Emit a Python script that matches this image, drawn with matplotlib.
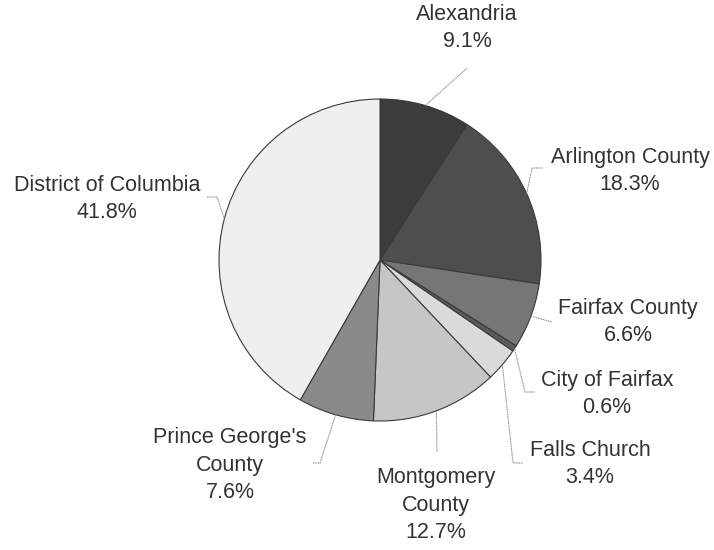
import numpy as np
import matplotlib.pyplot as plt

plt.rcParams["font.family"] = ["Liberation Sans", "DejaVu Sans"]

names = ["Alexandria", "Arlington County", "Fairfax County", "City of Fairfax",
         "Falls Church", "Montgomery\nCounty", "Prince George's\nCounty",
         "District of Columbia"]
shares = [9.1, 18.3, 6.6, 0.6, 3.4, 12.7, 7.6, 41.8]
greys = ["#3c3c3c", "#4e4e4e", "#767676", "#5a5a5a",
         "#dadada", "#c6c6c6", "#8a8a8a", "#efefef"]

# layout in pixel coordinates (y measured from top)
W, H = 714, 550
CX, CY, R = 380, 260, 161

# label block centres and leader bend points
label_pos = [(467, 28), (630, 171), (628, 322), (607, 394),
             (590, 464), (436, 505), (230, 465), (107, 199)]
leader_pts = [
    [(467, 68)],
    [(532, 168), (543, 168)],
    [(552, 322)],
    [(525, 392), (535, 392)],
    [(513, 463), (523, 463)],
    [(437, 452)],
    [(320, 463), (313, 463)],
    [(217, 197), (207, 197)],
]


def fy(y):
    """Convert a top-based pixel y to axes data y."""
    return H - y


def main() -> None:
    fig = plt.figure(figsize=(W / 100, H / 100), dpi=100)
    ax = fig.add_axes([0, 0, 1, 1])

    ax.pie(shares, colors=greys, startangle=90, counterclock=False,
           center=(CX, fy(CY)), radius=R,
           wedgeprops=dict(edgecolor="#3a3a3a", linewidth=0.8))
    ax.set_xlim(0, W)
    ax.set_ylim(0, H)
    ax.set_aspect("equal")
    ax.axis("off")

    total = sum(shares)
    cum = np.cumsum([0] + shares[:-1])
    for i, name in enumerate(names):
        theta = np.deg2rad(90 - 360 * (cum[i] + shares[i] / 2) / total)
        sx = CX + R * np.cos(theta)
        sy = fy(CY) + R * np.sin(theta)
        xs = [sx] + [p[0] for p in leader_pts[i]]
        ys = [sy] + [fy(p[1]) for p in leader_pts[i]]
        ax.plot(xs, ys, color="#8a8a8a", lw=0.8, ls=(0, (1, 0.6)))

        lx, ly = label_pos[i]
        ax.text(lx, fy(ly), f"{name}\n{shares[i]}%", ha="center", va="center",
                fontsize=15.5, color="#333333", linespacing=1.42,
                multialignment="center")

    fig.savefig("out.png", dpi=100)


if __name__ == "__main__":
    main()
